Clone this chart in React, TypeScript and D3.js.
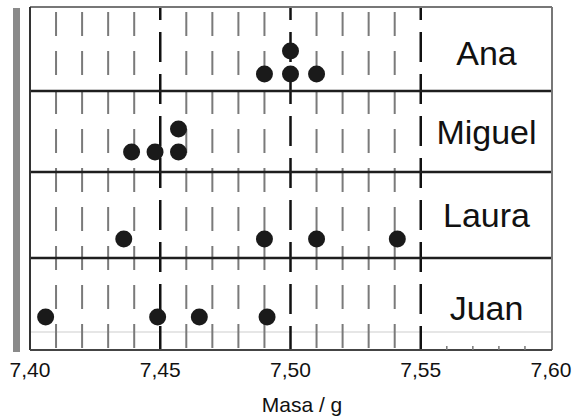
import React from "react";
import * as d3 from "d3";

// ---- data ----
const names = ["Ana", "Miguel", "Laura", "Juan"];
const anaValues = [7.49, 7.5, 7.5, 7.51];
const miguelValues = [7.439, 7.448, 7.457, 7.457];
const lauraValues = [7.436, 7.49, 7.51, 7.541];
const juanValues = [7.406, 7.449, 7.465, 7.491];
const seriesValues = [anaValues, miguelValues, lauraValues, juanValues];
const tickValues = [7.4, 7.45, 7.5, 7.55, 7.6];
const minorGridValues = [7.41, 7.42, 7.43, 7.44, 7.46, 7.47, 7.48, 7.49, 7.51, 7.52, 7.53, 7.54];
const majorGridValues = [7.45, 7.5, 7.55];
const axisMinorTicks = [7.56, 7.57, 7.58, 7.59];
const axisTitle = "Masa / g";

// ---- layout ----
const W = 583, H = 420;
const left = 30, right = 552, top = 7, bottom = 350;
const rowHeights = [84, 81, 86, 92];
const dotOffsets = [17, 20, 19, 33];
const labelOffsets = [16, 12, 12, 16];
const stackStep = 23;
const labelX = 486.5;

export default function App() {
  const x = d3.scaleLinear().domain([7.4, 7.6]).range([left, right - 1]);
  const edges = [top, ...Array.from(d3.cumsum(rowHeights)).map((v) => top + v)];
  const fmt = (v: number) => d3.format(".2f")(v).replace(".", ",");
  const font = "'Liberation Sans', Arial, sans-serif";

  return (
    <svg width={W} height={H} style={{ position: "absolute", left: 0, top: 0, background: "#fff" }}>
      {/* left grey bar */}
      <rect x={13} y={8} width={7} height={344} fill="#8a8a8a" />
      {/* faint artifact line */}
      <line x1={left} x2={right} y1={332} y2={332} stroke="#e6e6e6" strokeWidth={2} />
      {/* minor grid */}
      {minorGridValues.map((v) => (
        <line key={"m" + v} x1={x(v)} x2={x(v)} y1={top} y2={bottom}
          stroke="#7a7a7a" strokeWidth={2} strokeDasharray="24 15" strokeDashoffset={34} />
      ))}
      {/* major grid */}
      {majorGridValues.map((v) => (
        <line key={"M" + v} x1={x(v)} x2={x(v)} y1={top} y2={bottom}
          stroke="#111" strokeWidth={2.5} strokeDasharray="30 12" strokeDashoffset={17} />
      ))}
      {/* row separators */}
      {edges.slice(1, -1).map((e, i) => (
        <line key={"r" + i} x1={left} x2={right} y1={e} y2={e} stroke="#1e1e1e" strokeWidth={2.5} />
      ))}
      {/* frame */}
      <line x1={left} x2={right} y1={top} y2={top} stroke="#777" strokeWidth={2} />
      <line x1={right} x2={right} y1={top} y2={bottom} stroke="#777" strokeWidth={2} />
      <line x1={left} x2={left} y1={top} y2={bottom} stroke="#333" strokeWidth={2} />
      <line x1={left} x2={right} y1={bottom} y2={bottom} stroke="#444" strokeWidth={2} />
      {/* axis minor ticks */}
      {axisMinorTicks.map((v) => (
        <line key={"t" + v} x1={x(v)} x2={x(v)} y1={bottom - 4} y2={bottom} stroke="#777" strokeWidth={1.5} />
      ))}
      {/* tick labels */}
      {tickValues.map((v) => (
        <text key={"l" + v} x={x(v)} y={377} textAnchor="middle" fontFamily={font} fontSize={21} fill="#111">
          {fmt(v)}
        </text>
      ))}
      <text x={302} y={412} textAnchor="middle" fontFamily={font} fontSize={21} fill="#111">
        {axisTitle}
      </text>
      {/* rows: labels and dots */}
      {names.map((name, i) => {
        const y0 = edges[i], y1 = edges[i + 1];
        const vals = seriesValues[i];
        return (
          <g key={name}>
            <text x={labelX} y={(y0 + y1) / 2 + labelOffsets[i]} textAnchor="middle" fontFamily={font} fontSize={34} fill="#111">
              {name}
            </text>
            {vals.map((v, j) => {
              const level = vals.slice(0, j).filter((u) => u === v).length;
              return (
                <circle key={j} cx={x(v)} cy={y1 - dotOffsets[i] - level * stackStep} r={8.5} fill="#1a1a1a" />
              );
            })}
          </g>
        );
      })}
    </svg>
  );
}
